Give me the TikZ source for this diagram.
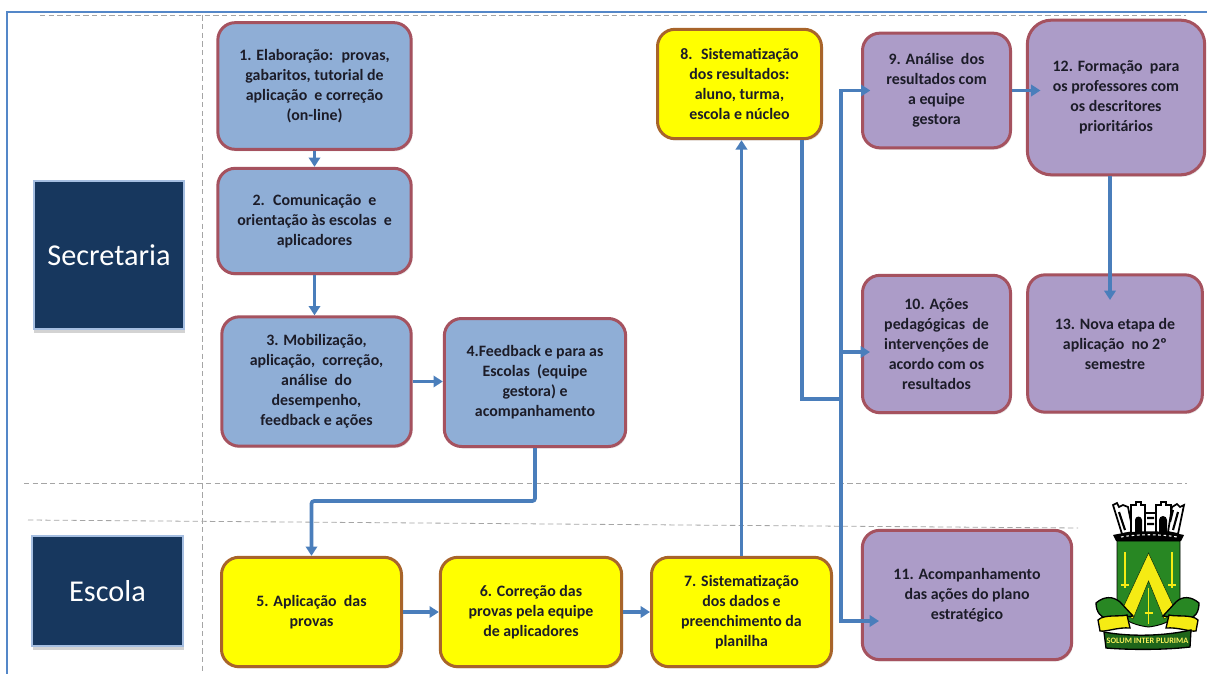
\documentclass[tikz,border=0pt]{standalone}
\usepackage{fontspec}
\setmainfont{Carlito}
\usetikzlibrary{shadows}
\usetikzlibrary{arrows.meta}

\definecolor{framec}{RGB}{84,135,200}
\definecolor{guidec}{RGB}{165,165,165}
\definecolor{navyc}{RGB}{23,55,94}
\definecolor{navyedge}{RGB}{165,190,225}
\definecolor{bluec}{RGB}{143,174,214}
\definecolor{lilacc}{RGB}{172,156,200}
\definecolor{sunc}{RGB}{255,255,0}
\definecolor{rededge}{RGB}{165,82,95}
\definecolor{brownedge}{RGB}{168,100,42}
\definecolor{flowc}{RGB}{74,126,187}
\definecolor{inkc}{RGB}{28,28,40}
\definecolor{crestgreen}{RGB}{40,135,35}
\definecolor{crestyellow}{RGB}{245,235,20}

\tikzset{
  stage/.style={draw,line width=2.25pt,rounded corners=13pt,inner sep=0pt,align=center,text=inkc,
    font=\fontsize{11.9}{15}\selectfont\bfseries,
    drop shadow={shadow xshift=1pt,shadow yshift=-1.5pt,opacity=0.18}},
  office/.style={stage,fill=bluec,draw=rededge},
  school/.style={stage,fill=sunc,draw=brownedge},
  action/.style={stage,fill=lilacc,draw=rededge},
  sector/.style={draw=navyedge,line width=1.5pt,fill=navyc,text=white,inner sep=0pt,
    font=\fontsize{22.7}{27}\selectfont,
    drop shadow={shadow xshift=0.5pt,shadow yshift=-3pt,opacity=0.35}},
  flow/.style={draw=flowc,line width=2.8pt,-{Triangle[length=7pt,width=8.5pt]}},
  plainflow/.style={draw=flowc,line width=2.8pt},
  guide/.style={draw=guidec,line width=0.6pt,dash pattern=on 4pt off 2.5pt},
  into/.style={shorten >=-7pt},
  deepinto/.style={shorten >=-11pt},
  tower/.style={fill=white,draw=black,line width=1.3pt}
}

\begin{document}
\begin{tikzpicture}[x=0.75pt,y=0.75pt,yscale=-1,xscale=1]
\useasboundingbox (0,0) rectangle (1207,674);

%Frame
\draw [draw=framec,line width=1.5pt] (7,680) -- (7,12.5) -- (1212,12.5);
%Dashed guides
\draw [guide] (40,15.5) -- (1186,15.5);
\draw [guide] (202,15.5) -- (202,674);
\draw [guide] (24,483) -- (1187,483);
\draw [guide] (28,520) -- (1078,528);

%Sector boxes
\node [sector,minimum width=113pt,minimum height=111pt] (secretaria) at (109,255) {Secretaria};
\node [sector,minimum width=113pt,minimum height=83pt] (escola) at (107.5,591) {Escola};

%Secretaria stages
\node [office,minimum width=145pt,minimum height=95pt] (st1) at (314.5,86) {1. Elaboração:~ provas,\\gabaritos, tutorial de\\aplicação~ e correção\\(on-line)};
\node [office,minimum width=145pt,minimum height=79pt] (st2) at (314.5,221) {2.~ Comunicação~ e\\orientação às escolas~ e\\aplicadores};
\node [office,minimum width=142pt,minimum height=97pt] (st3) at (316.5,381.5) {3. Mobilização,\\aplicação,~ correção,\\análise~ do\\desempenho,\\feedback e ações};
\node [office,minimum width=136pt,minimum height=96pt] (st4) at (535,382.5) {4.Feedback e para as\\Escolas~ (equipe\\gestora) e\\acompanhamento};

%Escola stages
\node [school,minimum width=135pt,minimum height=82pt] (st5) at (311.5,612) {5. Aplicação~ das\\provas};
\node [school,minimum width=136pt,minimum height=82pt] (st6) at (531,612) {6. Correção das\\provas pela equipe\\de aplicadores};
\node [school,minimum width=135pt,minimum height=82pt] (st7) at (741.5,612) {7. Sistematização\\dos dados e\\preenchimento da\\planilha};
\node [school,minimum width=123pt,minimum height=82pt] (st8) at (739.5,84) {8.~ Sistematização\\dos resultados:\\aluno, turma,\\escola e núcleo};

%Action stages
\node [action,minimum width=111pt,minimum height=86pt] (st9) at (936.5,90.5) {9. Análise~ dos\\resultados com\\a equipe\\gestora};
\node [action,minimum width=111pt,minimum height=103pt] (st10) at (936.5,344) {10. Ações\\pedagógicas~ de\\intervenções de\\acordo com os\\resultados};
\node [action,minimum width=157pt,minimum height=97pt] (st11) at (967,595) {11. Acompanhamento\\das ações do plano\\estratégico};
\node [action,minimum width=133pt,minimum height=116pt,rounded corners=18pt] (st12) at (1116,97.5) {12. Formação~ para\\os professores com\\os descritores\\prioritários};
\node [action,minimum width=131pt,minimum height=103pt] (st13) at (1115,343.5) {13. Nova etapa de\\aplicação~ no 2º\\semestre};

%Free ends of the connectors
\coordinate (leave8) at (802,140);
\coordinate (join8) at (841,399);
\coordinate (tip10) at (870,352);
\coordinate (tip11) at (879,621);
\coordinate (leave12) at (1110,176);
\coordinate (tip13) at (1110,300);

%Connectors
\draw [flow] (st1.south) -- (st2.north);
\draw [flow] (st2.south) -- (st2.south |- st3.north);
\draw [flow] (st3.east) -- (st3.east -| st4.west);
\draw [flow,rounded corners=2pt] (st4.south) -- ++(0,53) -| (st5.north);
\draw [flow] (st5.east) -- (st6.west);
\draw [flow] (st6.east) -- (st7.west);
\draw [flow] (st7.north) -- (st7.north |- st8.south);
\draw [plainflow] (leave8) |- (join8);
\draw [flow,into] (join8) |- (st9.west);
\draw [flow] (join8) |- (tip10);
\draw [flow] (join8) |- (tip11);
\draw [flow,deepinto] (st9.east) -- (st9.east -| st12.west);
\draw [flow] (leave12) -- (tip13);

%Crest: shield
\fill [crestgreen,draw=black,line width=0.7pt] (1117,541) -- (1180,541) -- (1180,605) .. controls (1180,618) and (1165,625) .. (1148.5,627) .. controls (1132,625) and (1117,618) .. (1117,605) -- cycle;
\fill [crestyellow,draw=black!60!crestgreen,line width=0.4pt] (1148.5,553) -- (1176,612) -- (1164,619) -- (1148.5,581) -- (1133,619) -- (1121,612) -- cycle;
%Crest: swords
\draw [crestyellow,line width=1.3pt] (1125,552) -- (1125,588) (1121,585) -- (1129,585);
\draw [crestyellow,line width=1.3pt] (1172,552) -- (1172,588) (1168,585) -- (1176,585);
\draw [crestyellow,line width=1.3pt] (1148.5,588) -- (1148.5,624) (1144.5,613) -- (1152.5,613);
%Crest: crown
\draw [tower] (1113,505) -- (1117,503) -- (1119,507) -- (1123,505) -- (1128,507) -- (1133,532) -- (1122,534) -- cycle;
\draw [tower] (1131,505) -- (1136,505) -- (1136,502) -- (1141,502) -- (1141,505) -- (1145,505) -- (1145,533) -- (1131,533) -- cycle;
\draw [tower] (1145,513) -- (1156,513) -- (1156,533) -- (1145,533) -- cycle;
\draw [tower] (1156,505) -- (1161,505) -- (1161,502) -- (1166,502) -- (1166,505) -- (1171,505) -- (1171,533) -- (1156,533) -- cycle;
\draw [tower] (1172,507) -- (1177,504) -- (1180,507) -- (1184,505) -- (1178,534) -- (1168,532) -- cycle;
\fill [black] (1135,520) -- (1135,533) -- (1142,533) -- (1142,520) arc[start angle=0,end angle=-180,radius=3.5] -- cycle;
\fill [black] (1159,520) -- (1159,533) -- (1167,533) -- (1167,520) arc[start angle=0,end angle=-180,radius=4] -- cycle;
\draw [black,line width=1.6pt] (1119,512) -- (1125,530) (1178,512) -- (1173,530) (1147,518) -- (1154,518) (1147,524) -- (1154,524) (1173,510) -- (1170,522);
\fill [black] (1113,535) .. controls (1135,530) and (1162,530) .. (1184,535) -- (1181,541) -- (1116,541) -- cycle;
\draw [white,line width=0.8pt,dash pattern=on 2pt off 2pt] (1121,537) .. controls (1138,534) and (1160,534) .. (1177,537);
%Crest: mantling
\fill [crestgreen,draw=black,line width=1pt] (1096,603) .. controls (1104,596) and (1113,596) .. (1120,602) -- (1133,616) -- (1108,619) .. controls (1101,618) and (1096,612) .. (1096,603) -- cycle;
\fill [crestgreen,draw=black,line width=1pt] (1199,603) .. controls (1191,596) and (1182,596) .. (1176,602) -- (1163,616) -- (1188,619) .. controls (1195,618) and (1199,612) .. (1199,603) -- cycle;
\fill [crestyellow,draw=black,line width=1pt] (1098,620) .. controls (1104,614) and (1120,617) .. (1127,615) -- (1130,628) .. controls (1118,627) and (1106,632) .. (1100,631) -- cycle;
\fill [crestyellow,draw=black,line width=1pt] (1198,620) .. controls (1192,614) and (1176,617) .. (1169,615) -- (1166,628) .. controls (1178,627) and (1190,632) .. (1196,631) -- cycle;
%Crest: scroll
\fill [crestgreen!75!black,draw=black,line width=1pt] (1104,632) .. controls (1130,637) and (1165,636) .. (1191,630) -- (1190,647) .. controls (1165,650) and (1130,650) .. (1106,648) -- cycle;
\node [text=crestyellow!70!white,font=\fontsize{6.2}{8}\selectfont\bfseries,inner sep=0pt] (motto) at (1147.5,641) {SOLUM INTER PLURIMA};

\end{tikzpicture}
\end{document}
